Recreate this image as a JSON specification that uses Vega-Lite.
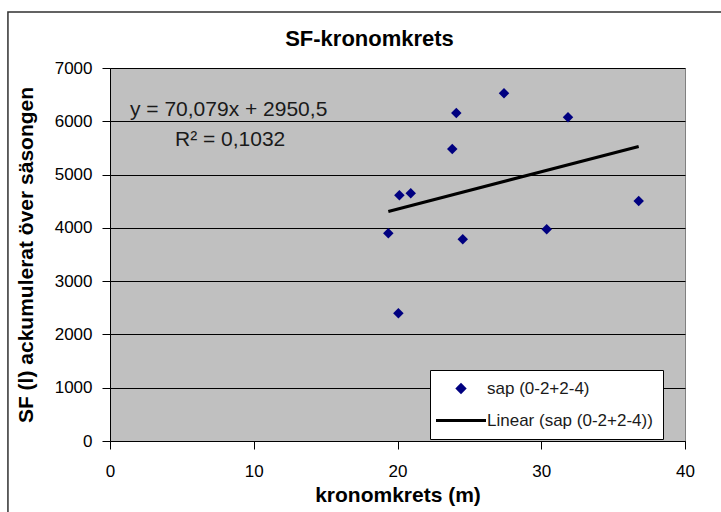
{
  "$schema": "https://vega.github.io/schema/vega-lite/v6.json",
  "width": 575,
  "height": 373,
  "autosize": {"type": "none"},
  "padding": {"left": 110, "top": 68, "right": 36, "bottom": 71},
  "background": "white",
  "title": {"text": "SF-kronomkrets", "font": "Liberation Sans", "fontSize": 22, "fontWeight": "bold", "color": "black", "offset": 0, "dx": -28, "dy": 40},
  "config": {
    "view": {"fill": "#c0c0c0", "stroke": "#808080"},
    "font": "Liberation Sans"
  },
  "datasets": {
    "points": [
      {"kronomkrets": 19.36, "sf": 3898, "serie": "sap (0-2+2-4)"},
      {"kronomkrets": 20.13, "sf": 4611, "serie": "sap (0-2+2-4)"},
      {"kronomkrets": 20.92, "sf": 4649, "serie": "sap (0-2+2-4)"},
      {"kronomkrets": 20.06, "sf": 2396, "serie": "sap (0-2+2-4)"},
      {"kronomkrets": 23.81, "sf": 5480, "serie": "sap (0-2+2-4)"},
      {"kronomkrets": 24.09, "sf": 6155, "serie": "sap (0-2+2-4)"},
      {"kronomkrets": 24.54, "sf": 3785, "serie": "sap (0-2+2-4)"},
      {"kronomkrets": 27.41, "sf": 6525, "serie": "sap (0-2+2-4)"},
      {"kronomkrets": 30.38, "sf": 3973, "serie": "sap (0-2+2-4)"},
      {"kronomkrets": 31.86, "sf": 6075, "serie": "sap (0-2+2-4)"},
      {"kronomkrets": 36.78, "sf": 4504, "serie": "sap (0-2+2-4)"}
    ],
    "trend": [
      {"kronomkrets": 19.36, "sf": 4307},
      {"kronomkrets": 36.78, "sf": 5528}
    ],
    "labels": [
      {"kronomkrets": 1.39, "sf": 6211, "text": "y = 70,079x + 2950,5"},
      {"kronomkrets": 4.52, "sf": 5648, "text": "R² = 0,1032"}
    ],
    "frame": [
      {"x1": -7.1, "x2": 60, "y1": 8049, "y2": -3000}
    ]
  },
  "layer": [
    {
      "data": {"name": "frame"},
      "mark": {"type": "rect", "fill": null, "stroke": "#303030", "strokeWidth": 1.5, "clip": false},
      "encoding": {
        "x": {"field": "x1", "type": "quantitative", "scale": {"domain": [0, 40], "nice": false, "zero": false}, "axis": {"values": [0, 10, 20, 30, 40], "grid": false, "domainColor": "black", "tickColor": "black", "tickSize": 8, "labelFontSize": 17, "labelColor": "black", "labelPadding": 14, "labelFlush": false, "title": "kronomkrets (m)", "titleFontSize": 21, "titleFontWeight": "bold", "titleColor": "black", "titlePadding": 5}},
        "x2": {"field": "x2"},
        "y": {"field": "y1", "type": "quantitative", "scale": {"domain": [0, 7000], "nice": false}, "axis": {"values": [0, 1000, 2000, 3000, 4000, 5000, 6000, 7000], "format": "d", "grid": true, "gridColor": "black", "gridOpacity": 1, "gridWidth": 1, "domainColor": "black", "tickColor": "black", "tickSize": 8, "labelFontSize": 17, "labelColor": "black", "labelPadding": 10, "labelFlush": false, "title": "SF (l) ackumulerat över säsongen", "titleFontSize": 21, "titleFontWeight": "bold", "titleColor": "black", "titlePadding": 18}},
        "y2": {"field": "y2"}
      }
    },
    {
      "data": {"name": "trend"},
      "mark": {"type": "line", "color": "black", "strokeWidth": 3},
      "encoding": {
        "x": {"field": "kronomkrets", "type": "quantitative"},
        "y": {"field": "sf", "type": "quantitative"}
      }
    },
    {
      "data": {"name": "points"},
      "mark": {"type": "point", "filled": true, "opacity": 1, "size": 110},
      "encoding": {
        "x": {"field": "kronomkrets", "type": "quantitative"},
        "y": {"field": "sf", "type": "quantitative"},
        "color": {
          "field": "serie", "type": "nominal",
          "scale": {"domain": ["sap (0-2+2-4)", "Linear (sap (0-2+2-4))"], "range": ["#000080", "black"]},
          "legend": {
            "title": null, "orient": "none", "legendX": 320, "legendY": 302,
            "fillColor": "white", "strokeColor": "black", "padding": 10,
            "symbolSize": 2500, "symbolStrokeWidth": 3, "labelLimit": 400,
            "labelFont": "Liberation Sans", "labelFontSize": 17, "labelColor": "#1a1a1a", "labelOffset": 30, "rowPadding": 14,
            "encoding": {
              "symbols": {
                "x": {"value": 21},
                "size": {"value": {"expr": "datum.value === 'sap (0-2+2-4)' ? 130 : 2500"}},
                "stroke": {"value": {"expr": "datum.value === 'sap (0-2+2-4)' ? '#000080' : 'black'"}},
                "strokeWidth": {"value": {"expr": "datum.value === 'sap (0-2+2-4)' ? 0 : 3"}}
              }
            }
          }
        },
        "shape": {
          "field": "serie", "type": "nominal",
          "scale": {"domain": ["sap (0-2+2-4)", "Linear (sap (0-2+2-4))"], "range": ["diamond", "stroke"]},
          "legend": {
            "title": null, "orient": "none", "legendX": 320, "legendY": 302,
            "fillColor": "white", "strokeColor": "black", "padding": 10,
            "symbolSize": 2500, "symbolStrokeWidth": 3, "labelLimit": 400,
            "labelFont": "Liberation Sans", "labelFontSize": 17, "labelColor": "#1a1a1a", "labelOffset": 30, "rowPadding": 14,
            "encoding": {
              "symbols": {
                "x": {"value": 21},
                "size": {"value": {"expr": "datum.value === 'sap (0-2+2-4)' ? 130 : 2500"}},
                "stroke": {"value": {"expr": "datum.value === 'sap (0-2+2-4)' ? '#000080' : 'black'"}},
                "strokeWidth": {"value": {"expr": "datum.value === 'sap (0-2+2-4)' ? 0 : 3"}}
              }
            }
          }
        }
      }
    },
    {
      "data": {"name": "labels"},
      "mark": {"type": "text", "align": "left", "baseline": "middle", "font": "Liberation Sans", "fontSize": 21, "color": "#1a1a1a"},
      "encoding": {
        "x": {"field": "kronomkrets", "type": "quantitative"},
        "y": {"field": "sf", "type": "quantitative"},
        "text": {"field": "text", "type": "nominal"}
      }
    }
  ]
}
